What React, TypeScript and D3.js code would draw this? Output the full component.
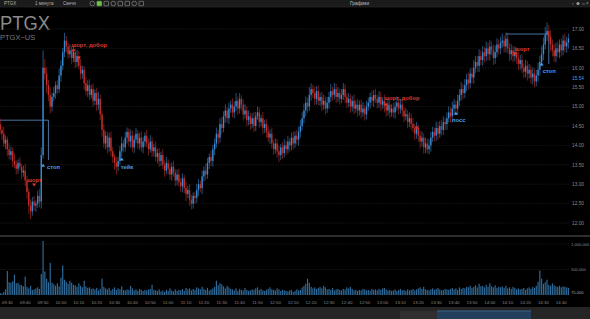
import React, { useEffect } from 'react';
import * as d3 from 'd3';

const W = 590;
const H = 319;

// first candle minute (09:26) and its open
const startMinute = 566;
const firstOpen = 14.55;

const closes = [
  14.40, 14.30, 14.05, 14.15, 13.90, 13.75, 13.85, 13.60, 13.50, 13.40,
  13.55, 13.45, 13.30, 13.35, 13.10, 12.80, 12.45, 12.30, 12.55, 12.45,
  12.50, 12.70, 12.55, 13.75, 16.00, 15.85, 15.55, 15.30, 15.00, 15.25,
  15.35, 15.55, 15.45, 15.80, 16.05, 16.40, 16.70, 16.55, 16.35, 16.45,
  16.25, 16.40, 16.15, 16.30, 16.05, 15.85, 15.95, 15.60, 15.40, 15.55,
  15.30, 15.45, 15.15, 15.35, 15.05, 15.20, 14.80, 14.40, 14.05, 14.25,
  13.95, 14.20, 13.85, 13.70, 13.55, 13.45, 13.60, 13.85, 14.05, 13.95,
  14.20, 14.35, 14.10, 14.25, 13.95, 14.15, 14.30, 14.05, 14.20, 13.95,
  14.10, 14.25, 14.05, 13.90, 14.10, 13.85, 13.95, 13.70, 13.80, 13.60,
  13.75, 13.50, 13.35, 13.55, 13.40, 13.25, 13.45, 13.30, 13.10, 13.25,
  13.05, 12.95, 13.15, 12.90, 12.75, 12.85, 12.60, 12.50, 12.70, 12.65,
  12.85, 13.00, 12.90, 13.20, 13.35, 13.25, 13.55, 13.70, 13.60, 13.90,
  14.05, 14.30, 14.20, 14.55, 14.45, 14.75, 14.90, 14.70, 14.95, 15.05,
  14.85, 15.00, 15.15, 14.95, 15.20, 15.05, 14.80, 14.90, 14.65, 14.75,
  14.55, 14.70, 14.50, 14.75, 14.85, 14.60, 14.70, 14.45, 14.55, 14.35,
  14.20, 14.30, 14.05, 13.90, 14.05, 13.85, 13.75, 13.95, 13.80, 14.00,
  13.90, 14.10, 14.00, 14.20, 14.05, 14.25, 14.15, 14.35, 14.50, 14.70,
  14.90, 15.10, 15.00, 15.30, 15.45, 15.35, 15.20, 15.40, 15.15, 15.25,
  15.05, 15.15, 14.95, 15.10, 15.25, 15.40, 15.30, 15.45, 15.25, 15.35,
  15.20, 15.30, 15.45, 15.25, 15.10, 15.20, 15.00, 15.15, 14.95, 15.05,
  14.90, 15.05, 14.85, 14.95, 14.80, 15.00, 15.10, 15.25, 15.15, 15.30,
  15.20, 15.10, 15.25, 15.05, 15.15, 15.00, 14.90, 15.05, 14.85, 14.95,
  14.85, 15.00, 15.10, 14.95, 15.05, 14.90, 14.75, 14.80, 14.60, 14.70,
  14.55, 14.45, 14.30, 14.45, 14.25, 14.10, 14.20, 13.95, 14.05, 13.90,
  14.00, 14.20, 14.35, 14.25, 14.45, 14.30, 14.50, 14.40, 14.60, 14.55,
  14.70, 14.85, 14.75, 14.95, 15.05, 14.95, 15.15, 15.30, 15.45, 15.35,
  15.55, 15.70, 15.60, 15.85, 15.75, 16.00, 16.15, 16.05, 16.30, 16.20,
  16.40, 16.30, 16.50, 16.35, 16.55, 16.45, 16.25, 16.40, 16.60, 16.50,
  16.65, 16.70, 16.55, 16.75, 16.50, 16.35, 16.45, 16.30, 16.40, 16.25,
  16.10, 16.20, 16.00, 15.90, 16.05, 15.85, 15.95, 15.75, 15.85, 15.65,
  15.80, 15.95, 16.15, 16.35, 16.60, 16.85, 16.95, 16.80, 16.60, 16.45,
  16.30, 16.50, 16.40, 16.60, 16.45, 16.70, 16.55, 16.65, 16.75,
];

// upper / lower wick beyond the body, in cents
const wickUp = [
  14, 9, 18, 11, 8, 16, 12, 10, 20, 11,
  9, 15, 8, 13, 18, 11, 9, 16, 12, 14,
  8, 13, 18, 20, 45, 22, 17, 14, 20, 11,
  16, 10, 13, 18, 14, 11, 20, 13, 9, 16,
  11, 15, 9, 16, 13, 18, 11, 10, 15, 13,
  16, 11, 15, 9, 13, 18, 11, 8, 15, 11,
  10, 13, 16, 11, 8, 15, 11, 13, 18, 10,
  15, 11, 9, 16, 13, 11, 15, 10, 13, 16,
  11, 9, 15, 13, 16, 11, 9, 15, 11, 13,
  9, 16, 11, 15, 9, 13, 11, 16, 9, 13,
  15, 11, 13, 9, 16, 11, 15, 13, 9, 11,
  16, 13, 9, 15, 11, 18, 13, 9, 16, 11,
  13, 16, 11, 15, 18, 13, 16, 9, 15, 11,
  16, 13, 20, 11, 15, 9, 13, 16, 11, 15,
  9, 13, 16, 11, 15, 13, 9, 16, 11, 13,
  15, 11, 16, 9, 13, 11, 15, 9, 13, 16,
  11, 15, 9, 13, 16, 11, 15, 13, 16, 15,
  18, 16, 13, 20, 15, 11, 16, 13, 15, 11,
  13, 16, 11, 15, 13, 18, 11, 16, 13, 15,
  11, 15, 16, 13, 9, 15, 11, 13, 16, 11,
  15, 11, 13, 16, 9, 15, 13, 11, 15, 13,
  16, 11, 15, 13, 9, 16, 11, 15, 13, 11,
  15, 13, 16, 11, 15, 13, 9, 16, 11, 15,
  13, 16, 11, 15, 9, 13, 16, 11, 15, 13,
  16, 15, 13, 11, 16, 15, 13, 16, 15, 11,
  15, 16, 13, 18, 15, 11, 16, 15, 18, 13,
  16, 15, 18, 13, 16, 20, 15, 16, 18, 15,
  16, 13, 18, 15, 16, 13, 15, 18, 16, 13,
  15, 18, 13, 16, 15, 13, 16, 11, 15, 13,
  16, 13, 15, 11, 16, 13, 15, 11, 16, 13,
  15, 18, 16, 20, 18, 20, 22, 15, 16, 13,
  16, 15, 18, 13, 16, 15, 18, 15, 13,
];

const wickDn = [
  11, 16, 9, 15, 18, 11, 13, 16, 9, 15,
  13, 9, 16, 11, 15, 18, 22, 20, 11, 13,
  16, 11, 15, 18, 9, 15, 20, 16, 18, 13,
  11, 15, 13, 9, 16, 11, 13, 15, 11, 9,
  15, 11, 16, 13, 9, 15, 13, 16, 11, 15,
  13, 9, 15, 11, 16, 13, 15, 18, 11, 15,
  16, 11, 13, 15, 18, 20, 11, 9, 15, 13,
  11, 15, 13, 16, 11, 15, 9, 13, 16, 11,
  15, 13, 11, 16, 9, 15, 13, 11, 16, 15,
  13, 11, 16, 9, 15, 13, 16, 11, 15, 13,
  11, 15, 16, 13, 18, 11, 16, 15, 13, 16,
  13, 15, 11, 16, 13, 15, 11, 16, 13, 15,
  15, 11, 16, 13, 15, 11, 16, 13, 15, 11,
  13, 15, 11, 16, 13, 15, 16, 11, 15, 13,
  15, 11, 16, 13, 9, 15, 11, 16, 13, 15,
  11, 16, 13, 15, 11, 16, 18, 13, 15, 11,
  15, 11, 16, 13, 15, 11, 13, 16, 15, 11,
  13, 15, 16, 11, 15, 13, 16, 15, 11, 13,
  16, 13, 15, 11, 16, 13, 15, 11, 16, 13,
  15, 11, 13, 16, 15, 11, 16, 13, 15, 11,
  16, 13, 15, 11, 16, 13, 11, 15, 13, 16,
  11, 15, 13, 16, 11, 15, 16, 13, 15, 11,
  13, 16, 11, 15, 13, 16, 15, 11, 16, 13,
  15, 11, 16, 13, 15, 18, 13, 16, 15, 11,
  13, 16, 11, 15, 13, 16, 11, 15, 13, 16,
  15, 11, 16, 13, 15, 11, 16, 13, 15, 16,
  13, 15, 16, 13, 15, 16, 13, 15, 16, 13,
  15, 16, 13, 15, 16, 13, 18, 15, 13, 16,
  15, 13, 16, 15, 13, 18, 15, 16, 13, 15,
  16, 15, 13, 16, 15, 18, 13, 16, 18, 15,
  13, 16, 15, 11, 15, 13, 16, 15, 18, 16,
  15, 16, 13, 15, 16, 13, 15, 16, 15,
];

// volume per minute, thousands of shares
const volumesK = [
  40, 30, 60, 110, 470, 250, 240, 270, 400, 230,
  240, 200, 190, 170, 360, 160, 130, 180, 100, 110,
  130, 150, 120, 410, 1060, 460, 320, 250, 630, 240,
  210, 180, 230, 170, 340, 580, 300, 260, 220, 280,
  240, 200, 190, 160, 230, 180, 150, 280, 170, 140,
  150, 120, 130, 110, 140, 90, 120, 320, 160, 130,
  110, 140, 90, 120, 150, 100, 130, 110, 170, 100,
  90, 110, 100, 180, 130, 90, 110, 80, 120, 100,
  80, 100, 90, 110, 120, 200, 100, 90, 80, 110,
  70, 90, 60, 100, 80, 130, 90, 70, 110, 80,
  100, 90, 120, 80, 140, 110, 130, 90, 120, 100,
  150, 130, 110, 160, 120, 100, 140, 90, 110, 130,
  160, 280, 190, 230, 210, 170, 130, 180, 150, 120,
  110, 90, 130, 80, 120, 100, 90, 140, 100, 80,
  90, 110, 100, 130, 150, 100, 120, 90, 80, 100,
  120, 150, 110, 100, 90, 130, 110, 80, 100, 90,
  80, 70, 90, 100, 60, 80, 110, 90, 100, 150,
  180, 220, 320, 240, 160, 130, 150, 120, 140, 160,
  130, 180, 150, 110, 120, 100, 140, 90, 110, 120,
  100, 90, 120, 110, 150, 130, 160, 120, 90, 100,
  80, 100, 90, 120, 110, 90, 100, 80, 120, 100,
  110, 90, 120, 100, 130, 140, 110, 90, 100, 80,
  90, 110, 80, 100, 120, 90, 100, 80, 110, 90,
  100, 120, 90, 110, 130, 150, 120, 160, 110, 100,
  90, 110, 130, 100, 120, 140, 110, 90, 100, 120,
  110, 100, 120, 140, 110, 130, 100, 150, 120, 140,
  130, 160, 150, 180, 140, 160, 190, 150, 220, 170,
  180, 150, 200, 160, 230, 170, 150, 190, 140, 160,
  150, 170, 140, 180, 130, 150, 120, 160, 140, 110,
  130, 110, 120, 140, 100, 130, 150, 120, 160, 140,
  180, 260, 480, 320, 220, 250, 300, 200, 180, 230,
  190, 170, 160, 180, 150, 170, 160, 150, 140,
];

const priceTicks = [12, 12.5, 13, 13.5, 14, 14.5, 15, 15.5, 16, 16.5, 17];
const volumeTicks = [1000000, 500000];
const volumeTickLabels = ['1,000,000', '500,000'];
const lastVolume = 75000;
const lastVolumeLabel = '75,000';
const cursorPrice = 15.74;
const cursorPriceLabel = '15.54';
const timeLabels = [
  '09:30', '09:40', '09:50', '10:00', '10:10', '10:20', '10:30', '10:40',
  '10:50', '11:00', '11:10', '11:20', '11:30', '11:40', '11:50', '12:00',
  '12:10', '12:20', '12:30', '12:40', '12:50', '13:00', '13:10', '13:20',
  '13:30', '13:40', '13:50', '14:00', '14:10', '14:20', '14:30', '14:40',
];

// trade markers
const markerIndex = [19, 24, 41, 44, 68, 216, 233, 255, 288, 303];
const markerPrice = [12.98, 13.49, 16.43, 16.25, 13.65, 15.04, 14.45, 14.83, 16.36, 16.1];
const markerSide = ['sell', 'buy', 'sell', 'sell', 'buy', 'sell', 'sell', 'buy', 'sell', 'buy'];
const markerLabels = ['шорт', 'стоп', 'шорт, добор', '', 'тейк', 'шорт, добор', '', 'лосс', 'шорт', 'стоп'];

// position lines (entry level -> stop)
const orderFrom = [0, 283];
const orderTo = [27, 307];
const orderLevel = [14.65, 16.87];
const orderStop = [13.62, 16.1];

// label offsets (style)
const LABEL_OFFSET: [number, number][] = [
  [-7, -5], [4, 2], [-2, -6], [0, 0], [-1, 8], [-2, -7], [0, 0], [-4, 7], [0, -5], [1, 7],
];

const FONT = '"Liberation Sans", Arial, sans-serif';
const UP = '#3b8ad3';
const DOWN = '#c42f29';
const BLUE_TXT = '#4b9fe3';
const RED_TXT = '#dd3a2f';

const minuteOf = (s: string) => {
  const [h, m] = s.split(':').map(Number);
  return h * 60 + m;
};

export default function App() {
  useEffect(() => {
    document.body.style.margin = '0';
    document.body.style.background = '#000';
  }, []);

  const plotRight = 570;
  const x = d3.scaleLinear().domain([565.9, 565.9 + 573 / 1.787]).range([0, 573]);
  const y = d3.scaleLinear().domain([12, 17]).range([223, 29]);
  const yv = d3.scaleLinear().domain([0, 1000000]).range([295, 244]);

  const candles = closes.map((c, i) => {
    const o = i === 0 ? firstOpen : closes[i - 1];
    return {
      t: startMinute + i,
      o,
      c,
      h: Math.max(o, c) + wickUp[i] / 100,
      l: Math.min(o, c) - wickDn[i] / 100,
      v: volumesK[i] * 1000,
    };
  });

  const bodyW = 1.35;
  const volW = 1.15;

  const toolbarIcons = [90, 97, 104, 111, 118, 125, 132, 139];

  return (
    <svg
      width={W}
      height={H}
      style={{ position: 'fixed', left: 0, top: 0, display: 'block', background: '#000' }}
      fontFamily={FONT}
    >
      <rect x={0} y={0} width={W} height={H} fill="#000" />

      {/* toolbar */}
      <rect x={0} y={0} width={W} height={7} fill="#1b1b1b" />
      <line x1={0} x2={W} y1={7} y2={7} stroke="#2c2c2c" strokeWidth={0.6} />
      <text x={4} y={5} fontSize={4.5} fill="#b0b0b0">PTGX</text>
      <text x={35} y={5} fontSize={4.5} fill="#b0b0b0">1 минута</text>
      <text x={63} y={5} fontSize={4.5} fill="#b0b0b0">Свечи</text>
      {toolbarIcons.map((ix, k) => (
        <rect
          key={k}
          x={ix}
          y={1.3}
          width={4.5}
          height={4.5}
          fill={k === 1 ? '#6fc04a' : 'none'}
          stroke={k === 1 ? '#6fc04a' : '#9a9a9a'}
          strokeWidth={0.6}
          rx={k % 3 === 0 ? 2 : 0.5}
        />
      ))}
      <text x={350} y={5} fontSize={4.8} fill="#c0c0c0">Графики</text>
      <text x={572} y={5} fontSize={4.5} fill="#999">‹</text>
      <circle cx={578} cy={3.5} r={1.6} fill="#999" />
      <line x1={582} x2={585} y1={4} y2={4} stroke="#999" strokeWidth={0.6} />
      <text x={586} y={5} fontSize={4.5} fill="#999">×</text>

      {/* title */}
      <text x={0} y={30} fontSize={20} fill="#8a8a8a" textLength={50} lengthAdjust="spacingAndGlyphs">
        PTGX
      </text>
      <text x={0} y={39.5} fontSize={7.5} fill="#777">PTGX~US</text>

      {/* price grid */}
      {priceTicks.map((p) => (
        <g key={p}>
          <line x1={0} x2={plotRight} y1={y(p)} y2={y(p)} stroke="#1d1d1d" strokeWidth={0.7} strokeDasharray="1.5,1" />
          <text x={572} y={y(p) + 1.7} fontSize={4.8} fill="#8a8a8a">{p.toFixed(2)}</text>
        </g>
      ))}
      <text x={572} y={y(cursorPrice) + 1.7} fontSize={4.8} fill={BLUE_TXT}>{cursorPriceLabel}</text>

      {/* position lines */}
      {orderFrom.map((f, k) => (
        <polyline
          key={k}
          points={`${x(startMinute + f) - (f === 0 ? 1 : 0)},${y(orderLevel[k])} ${x(startMinute + orderTo[k])},${y(orderLevel[k])} ${x(startMinute + orderTo[k])},${y(orderStop[k])}`}
          fill="none"
          stroke="#5b8fc4"
          strokeWidth={0.8}
        />
      ))}

      {/* candles */}
      {candles.map((d, i) => {
        const col = d.c >= d.o ? UP : DOWN;
        const cx = x(d.t);
        const top = y(Math.max(d.o, d.c));
        const bot = y(Math.min(d.o, d.c));
        return (
          <g key={i}>
            <line x1={cx} x2={cx} y1={y(d.h)} y2={y(d.l)} stroke={col} strokeWidth={0.6} />
            <rect x={cx - bodyW / 2} y={top} width={bodyW} height={Math.max(0.8, bot - top)} fill={col} />
          </g>
        );
      })}

      {/* markers */}
      {markerIndex.map((mi, k) => {
        const mx = x(startMinute + mi);
        const my = y(markerPrice[k]);
        const sell = markerSide[k] === 'sell';
        const col = sell ? RED_TXT : BLUE_TXT;
        const tri = sell
          ? `${mx - 2},${my - 1.5} ${mx + 2},${my - 1.5} ${mx},${my + 1.5}`
          : `${mx - 2},${my + 1.5} ${mx + 2},${my + 1.5} ${mx},${my - 1.5}`;
        const [dx, dy] = LABEL_OFFSET[k];
        return (
          <g key={k}>
            <polygon points={tri} fill={col} />
            {markerLabels[k] && (
              <text x={mx + dx} y={my + dy + 2} fontSize={5.8} fill={col} fontWeight="bold">
                {markerLabels[k]}
              </text>
            )}
          </g>
        );
      })}

      {/* panel separator */}
      <line x1={0} x2={W} y1={236} y2={236} stroke="#5a5a5a" strokeWidth={1} />

      {/* volume panel */}
      {volumeTicks.map((v, k) => (
        <g key={v}>
          <line x1={0} x2={plotRight} y1={yv(v)} y2={yv(v)} stroke="#1d1d1d" strokeWidth={0.7} strokeDasharray="1.5,1" />
          <text x={571} y={yv(v) + 1.6} fontSize={4.1} fill="#8a8a8a">{volumeTickLabels[k]}</text>
        </g>
      ))}
      <text x={571} y={yv(lastVolume) + 2.5} fontSize={4.1} fill="#a9a9a9">{lastVolumeLabel}</text>
      {candles.map((d, i) => (
        <rect
          key={i}
          x={x(d.t) - volW / 2}
          y={yv(d.v)}
          width={volW}
          height={yv(0) - yv(d.v)}
          fill="#2f6c9c"
        />
      ))}

      {/* time axis */}
      {timeLabels.map((s) => (
        <text key={s} x={x(minuteOf(s))} y={303.5} fontSize={4.4} fill="#8a8a8a" textAnchor="middle">
          {s}
        </text>
      ))}

      {/* navigator */}
      <rect x={0} y={307} width={W} height={12} fill="#252525" />
      <rect x={400} y={311} width={37} height={8} fill="#2f2f2f" rx={1} />
      <rect x={437} y={310.5} width={94} height={8.5} fill="#22405c" />
      <line x1={437} x2={531} y1={311} y2={311} stroke="#4d7aa3" strokeWidth={0.6} />
    </svg>
  );
}
